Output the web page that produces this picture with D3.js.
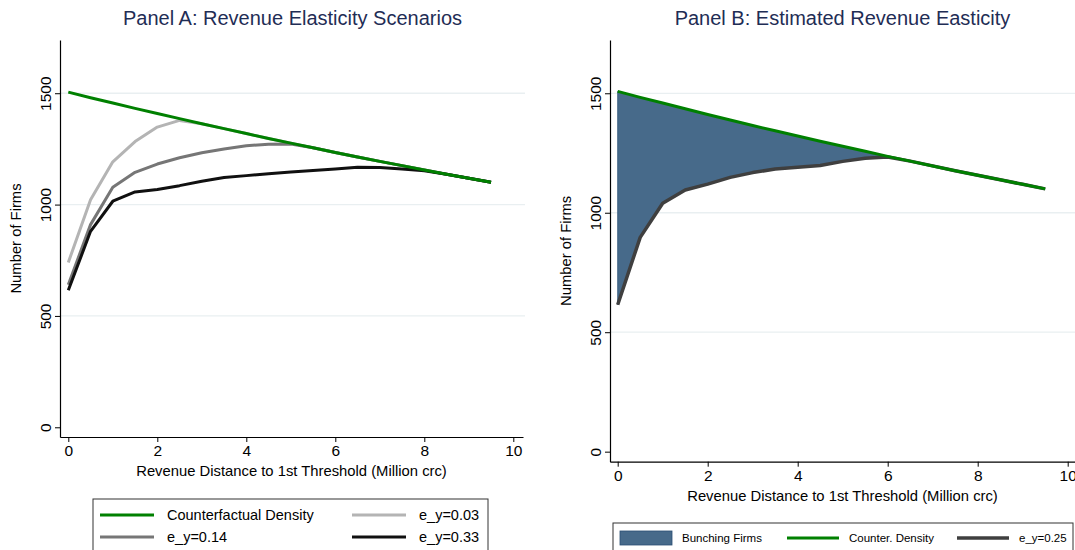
<!DOCTYPE html>
<html>
<head>
<meta charset="utf-8">
<script src="https://cdn.jsdelivr.net/npm/d3@7"></script>
<style>
  body { margin: 0; background: #fff; }
  text { font-family: "Liberation Sans", Arial, sans-serif; }
</style>
</head>
<body>
<div id="chart"></div>
<script>
// revenue distance (million crc)
var xVals = [0, 0.5, 1, 1.5, 2, 2.5, 3, 3.5, 4, 4.5, 5, 5.5, 6, 6.5, 7, 7.5, 8, 8.5, 9, 9.5];

// Panel A
var counterA = [1505, 1480, 1456, 1432, 1409, 1386, 1363, 1341, 1319, 1297, 1276, 1255, 1234, 1214, 1194, 1175, 1155, 1136, 1118, 1100];
var ey003 = [740, 1022, 1192, 1283, 1348, 1378, 1363, 1341, 1319, 1297, 1276, 1255, 1234, 1214, 1194, 1175, 1155, 1136, 1118, 1100];
var ey014 = [640, 910, 1078, 1145, 1182, 1210, 1233, 1250, 1264, 1271, 1272, 1255, 1234, 1214, 1194, 1175, 1155, 1136, 1118, 1100];
var ey033 = [615, 880, 1015, 1057, 1068, 1085, 1105, 1122, 1130, 1138, 1146, 1153, 1160, 1168, 1166, 1160, 1152, 1136, 1118, 1100];

// Panel B
var counterB = [1508, 1483, 1459, 1435, 1411, 1388, 1365, 1343, 1321, 1299, 1278, 1257, 1236, 1216, 1196, 1176, 1157, 1138, 1119, 1100];
var ey025 = [615, 897, 1040, 1095, 1120, 1148, 1168, 1183, 1190, 1198, 1215, 1228, 1233, 1216, 1196, 1176, 1157, 1138, 1119, 1100];

var xTicks = [0, 2, 4, 6, 8, 10];
var yTicks = [0, 500, 1000, 1500];

var svg = d3.select("#chart")
            .append("svg")
            .attr("width", 1075)
            .attr("height", 550);

function pts(ys) {
  return xVals.map(function(x, i) { return {x: x, y: ys[i]}; });
}

function drawPanel(p) {
  var x = d3.scaleLinear().domain(p.xDomain).range([p.left, p.right]);
  var y = d3.scaleLinear().domain(p.yDomain).range([p.bottom, p.top]);
  var g = svg.append("g");

  // grid
  g.selectAll("line.grid")
   .data(yTicks.filter(function(d) { return d > 0; }))
   .enter()
   .append("line")
     .attr("x1", p.left)
     .attr("x2", p.gridRight)
     .attr("y1", function(d) { return y(d); })
     .attr("y2", function(d) { return y(d); })
     .attr("stroke", "#e9eff1")
     .attr("stroke-width", 1.3);

  var line = d3.line()
    .x(function(d) { return x(d.x); })
    .y(function(d) { return y(d.y); });

  if (p.area) {
    var area = d3.area()
      .x(function(d) { return x(d.x); })
      .y0(function(d) { return y(d.lo); })
      .y1(function(d) { return y(d.hi); });
    var ad = xVals.map(function(v, i) { return {x: v, lo: p.area.lo[i], hi: p.area.hi[i]}; });
    g.append("path")
     .attr("d", area(ad))
     .attr("fill", "#476a8a")
     .attr("stroke", "#2b4f73")
     .attr("stroke-width", 0.8);
  }

  // green counterfactual goes last so it sits on top
  g.selectAll("path.series")
   .data(p.series)
   .enter()
   .append("path")
     .attr("d", function(s) { return line(pts(s.values)); })
     .attr("fill", "none")
     .attr("stroke", function(s) { return s.color; })
     .attr("stroke-width", function(s) { return s.width; })
     .attr("stroke-linejoin", "round");

  // axes
  var xAxis = d3.axisBottom(x).tickValues(xTicks).tickSize(5).tickPadding(3).tickSizeOuter(0);
  var gx = g.append("g").attr("transform", "translate(0," + p.bottom + ")").call(xAxis);
  gx.select(".domain").attr("stroke", "#000").attr("stroke-width", 1.2);
  gx.selectAll(".tick line").attr("stroke", "#000");
  gx.selectAll(".tick text").attr("font-size", "15.5px").attr("fill", "#000")
    .attr("font-family", "Liberation Sans, Arial, sans-serif");

  var yAxis = d3.axisLeft(y).tickValues(yTicks).tickFormat(d3.format("d")).tickSize(5).tickSizeOuter(0);
  var gy = g.append("g").attr("transform", "translate(" + p.left + ",0)").call(yAxis);
  gy.select(".domain").attr("stroke", "#000").attr("stroke-width", 1.2);
  gy.selectAll(".tick line").attr("stroke", "#000");
  gy.selectAll(".tick text")
    .attr("font-size", "15.5px").attr("fill", "#000")
    .attr("font-family", "Liberation Sans, Arial, sans-serif")
    .attr("x", null).attr("dy", null)
    .attr("text-anchor", "middle")
    .attr("transform", "translate(-9,0) rotate(-90)");

  // titles
  var cx = (p.left + p.right) / 2;
  g.append("text")
   .text(p.title)
   .attr("x", (p.left + p.gridRight) / 2)
   .attr("y", 25)
   .attr("text-anchor", "middle")
   .attr("font-size", "20px")
   .attr("fill", "#1f2d55");

  g.append("text")
   .text("Revenue Distance to 1st Threshold (Million crc)")
   .attr("x", cx)
   .attr("y", p.bottom + 39)
   .attr("text-anchor", "middle")
   .attr("font-size", "14.8px")
   .attr("fill", "#000");

  g.append("text")
   .text("Number of Firms")
   .attr("transform", "translate(" + (p.left - 39) + "," + ((p.top + p.bottom) / 2) + ") rotate(-90)")
   .attr("text-anchor", "middle")
   .attr("font-size", "14.8px")
   .attr("fill", "#000");

  // legend
  var L = p.legend;
  g.append("rect")
   .attr("x", L.x).attr("y", L.y)
   .attr("width", L.w).attr("height", L.h)
   .attr("fill", "#fff")
   .attr("stroke", "#333")
   .attr("stroke-width", 1);

  var items = g.selectAll("g.leg")
    .data(L.items)
    .enter()
    .append("g")
      .attr("transform", function(d) { return "translate(" + d.x + "," + d.y + ")"; });

  items.each(function(d) {
    var it = d3.select(this);
    if (d.type === "rect") {
      it.append("rect")
        .attr("x", 0).attr("y", -7)
        .attr("width", L.sw).attr("height", 14)
        .attr("fill", "#476a8a")
        .attr("stroke", "#2b4f73")
        .attr("stroke-width", 0.8);
    } else {
      it.append("line")
        .attr("x1", 0).attr("x2", L.sw)
        .attr("y1", 0).attr("y2", 0)
        .attr("stroke", d.color)
        .attr("stroke-width", d.width);
    }
    it.append("text")
      .text(d.label)
      .attr("x", L.sw + L.gap)
      .attr("y", 0)
      .attr("dy", "0.35em")
      .attr("font-size", L.fs)
      .attr("fill", "#000");
  });
}

var green = "#008000";

drawPanel({
  title: "Panel A: Revenue Elasticity Scenarios",
  left: 60, right: 523, gridRight: 525, top: 40, bottom: 437,
  xDomain: [(60 - 68.3) / 44.5, (523 - 68.3) / 44.5],
  yDomain: [-43.6, 1739],
  series: [
    {values: ey003, color: "#b4b4b4", width: 3},
    {values: ey014, color: "#767676", width: 3},
    {values: ey033, color: "#101010", width: 3},
    {values: counterA, color: green, width: 3}
  ],
  legend: {
    x: 93, y: 499, w: 395, h: 60, sw: 54, gap: 13, fs: "14.5px",
    items: [
      {x: 100, y: 515, label: "Counterfactual Density", color: green, width: 3},
      {x: 352, y: 515, label: "e_y=0.03", color: "#b4b4b4", width: 3},
      {x: 100, y: 537, label: "e_y=0.14", color: "#767676", width: 3},
      {x: 352, y: 537, label: "e_y=0.33", color: "#101010", width: 3}
    ]
  }
});

drawPanel({
  title: "Panel B: Estimated Revenue Easticity",
  left: 610, right: 1075, gridRight: 1075, top: 40, bottom: 461.7,
  xDomain: [(610 - 617.7) / 45, (1075 - 617.7) / 45],
  yDomain: [-42, 1723],
  area: {lo: ey025, hi: counterB},
  series: [
    {values: ey025, color: "#3f3f3f", width: 3.5},
    {values: counterB, color: green, width: 3}
  ],
  legend: {
    x: 613, y: 523, w: 460, h: 40, sw: 52, gap: 10, fs: "11.5px",
    items: [
      {x: 620, y: 538, label: "Bunching Firms", type: "rect"},
      {x: 787, y: 538, label: "Counter. Density", color: green, width: 3},
      {x: 957, y: 538, label: "e_y=0.25", color: "#3f3f3f", width: 3.5}
    ]
  }
});
</script>
</body>
</html>
